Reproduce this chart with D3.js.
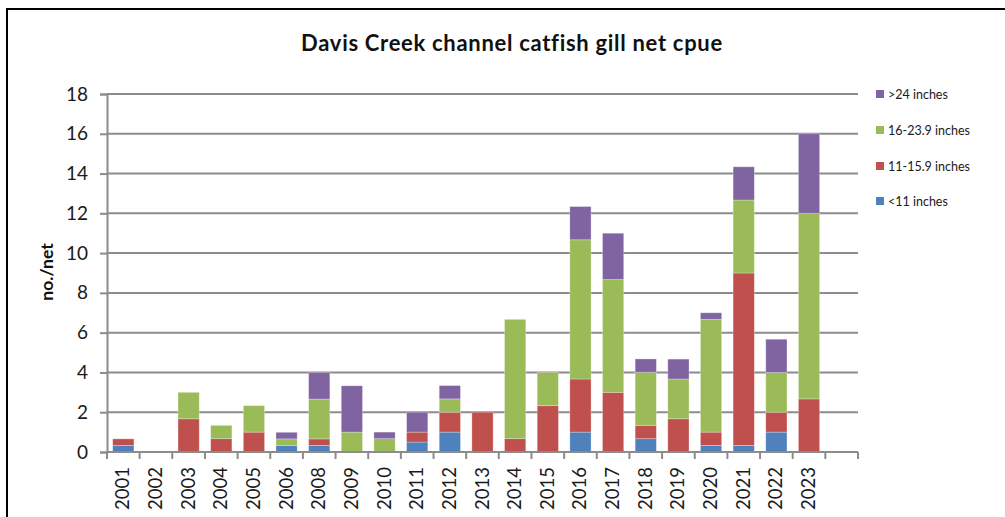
<!DOCTYPE html>
<html>
<head>
<meta charset="utf-8">
<script src="https://cdn.jsdelivr.net/npm/d3@7/dist/d3.min.js"></script>
<style>
  html, body { margin: 0; padding: 0; background: #fff; }
  svg { display: block; font-family: Lato, "Open Sans", sans-serif; }
</style>
</head>
<body>
<svg id="chart" width="1005" height="517"></svg>
<script>
// Survey years (no sampling in 2007)
const years = ["2001","2002","2003","2004","2005","2006","2008","2009","2010","2011","2012",
               "2013","2014","2015","2016","2017","2018","2019","2020","2021","2022","2023"];

// Catch per net by length group
const under11  = [0.33,0,0,0,0,0.33,0.33,0,0,0.5,1,0,0,0,1,0,0.67,0,0.33,0.33,1,0];
const in11to16 = [0.33,0,1.67,0.67,1,0,0.33,0,0,0.5,1,2,0.67,2.33,2.67,3,0.67,1.67,0.67,8.67,1,2.67];
const in16to24 = [0,0,1.33,0.67,1.33,0.33,2,1,0.67,0,0.67,0,6,1.67,7,5.67,2.67,2,5.67,3.67,2,9.33];
const over24   = [0,0,0,0,0,0.33,1.33,2.33,0.33,1,0.67,0,0,0,1.67,2.33,0.67,1,0.33,1.67,1.67,4];

const seriesNames = ["<11 inches","11-15.9 inches","16-23.9 inches",">24 inches"];
const seriesColors = ["#4F81BD","#C0504D","#9BBB59","#8064A2"];
const yTicks = [0,2,4,6,8,10,12,14,16,18];

const svg = d3.select("#chart");

// outer frame
svg.append("rect")
  .attr("x", 7).attr("y", 9).attr("width", 1010).attr("height", 520)
  .attr("fill", "none").attr("stroke", "#000").attr("stroke-width", 2);

const plotLeft = 107, plotRight = 858, plotTop = 94, plotBottom = 452;

// one empty slot after the last year, as in the workbook's category range
const x = d3.scaleBand()
  .domain(years.concat([" "]))
  .range([plotLeft, plotRight])
  .paddingInner(0.35)
  .paddingOuter(0.175);

const y = d3.scaleLinear().domain([0, 18]).range([plotBottom, plotTop]);

// gridlines
svg.append("g")
  .selectAll("line")
  .data(yTicks)
  .join("line")
  .attr("x1", plotLeft).attr("x2", plotRight)
  .attr("y1", d => y(d)).attr("y2", d => y(d))
  .attr("stroke", "#8c8c8c").attr("stroke-width", 2);

// stacked bars
const rows = years.map((yr, i) => ({
  year: yr,
  a: under11[i], b: in11to16[i], c: in16to24[i], d: over24[i]
}));
const stack = d3.stack().keys(["a","b","c","d"]);
const layers = stack(rows);

svg.append("g")
  .selectAll("g")
  .data(layers)
  .join("g")
  .attr("fill", (d, i) => seriesColors[i])
  .selectAll("rect")
  .data(d => d.filter(p => p[1] - p[0] > 0))
  .join("rect")
  .attr("x", p => x(p.data.year))
  .attr("width", x.bandwidth())
  .attr("y", p => y(p[1]))
  .attr("height", p => y(p[0]) - y(p[1]))
  .attr("stroke", "#ffffff").attr("stroke-opacity", 0.35).attr("stroke-width", 0.8);

// y axis
const yAxis = d3.axisLeft(y).tickValues(yTicks).tickSize(7).tickPadding(12);
const gy = svg.append("g").attr("transform", `translate(${plotLeft},0)`).call(yAxis);
gy.select(".domain").attr("stroke", "#8c8c8c").attr("stroke-width", 2);
gy.selectAll(".tick line").attr("stroke", "#8c8c8c").attr("stroke-width", 2);
gy.selectAll(".tick text").attr("font-size", 19).attr("fill", "#1a1a1a")
  .attr("font-family", "Lato, sans-serif");

// x axis: baseline, boundary ticks, rotated labels
const step = x.step();
const gap = (step - x.bandwidth()) / 2;
const boundaries = x.domain().map(d => x(d) - gap).concat([plotRight]);

svg.append("line")
  .attr("x1", plotLeft).attr("x2", plotRight).attr("y1", plotBottom).attr("y2", plotBottom)
  .attr("stroke", "#8c8c8c").attr("stroke-width", 2);

svg.append("g")
  .selectAll("line")
  .data(boundaries)
  .join("line")
  .attr("x1", d => d).attr("x2", d => d)
  .attr("y1", plotBottom).attr("y2", plotBottom + 7)
  .attr("stroke", "#8c8c8c").attr("stroke-width", 2);

svg.append("g")
  .selectAll("text")
  .data(years)
  .join("text")
  .attr("transform", d => `translate(${x(d) + x.bandwidth() / 2 + 6},${plotBottom + 15}) rotate(-90)`)
  .attr("text-anchor", "end")
  .attr("font-size", 18.5)
  .attr("fill", "#1a1a1a")
  .text(d => d);

// titles
svg.append("text")
  .attr("x", 512).attr("y", 51)
  .attr("text-anchor", "middle")
  .attr("font-size", 22).attr("font-weight", "bold")
  .attr("letter-spacing", 0.7)
  .attr("fill", "#111")
  .text("Davis Creek channel catfish gill net cpue");

svg.append("text")
  .attr("transform", "translate(53,272) rotate(-90)")
  .attr("text-anchor", "middle")
  .attr("font-size", 17.5).attr("font-weight", "bold")
  .attr("fill", "#111")
  .text("no./net");

// legend, top entry is the last series
const legendY = [94, 130, 166, 201];
const legend = svg.append("g");
[3, 2, 1, 0].forEach((s, k) => {
  legend.append("rect")
    .attr("x", 876).attr("y", legendY[k] - 4)
    .attr("width", 8).attr("height", 8)
    .attr("fill", seriesColors[s]);
  legend.append("text")
    .attr("x", 888).attr("y", legendY[k] + 4.5)
    .attr("font-size", 12.5).attr("fill", "#1a1a1a")
    .text(seriesNames[s]);
});
</script>
</body>
</html>
